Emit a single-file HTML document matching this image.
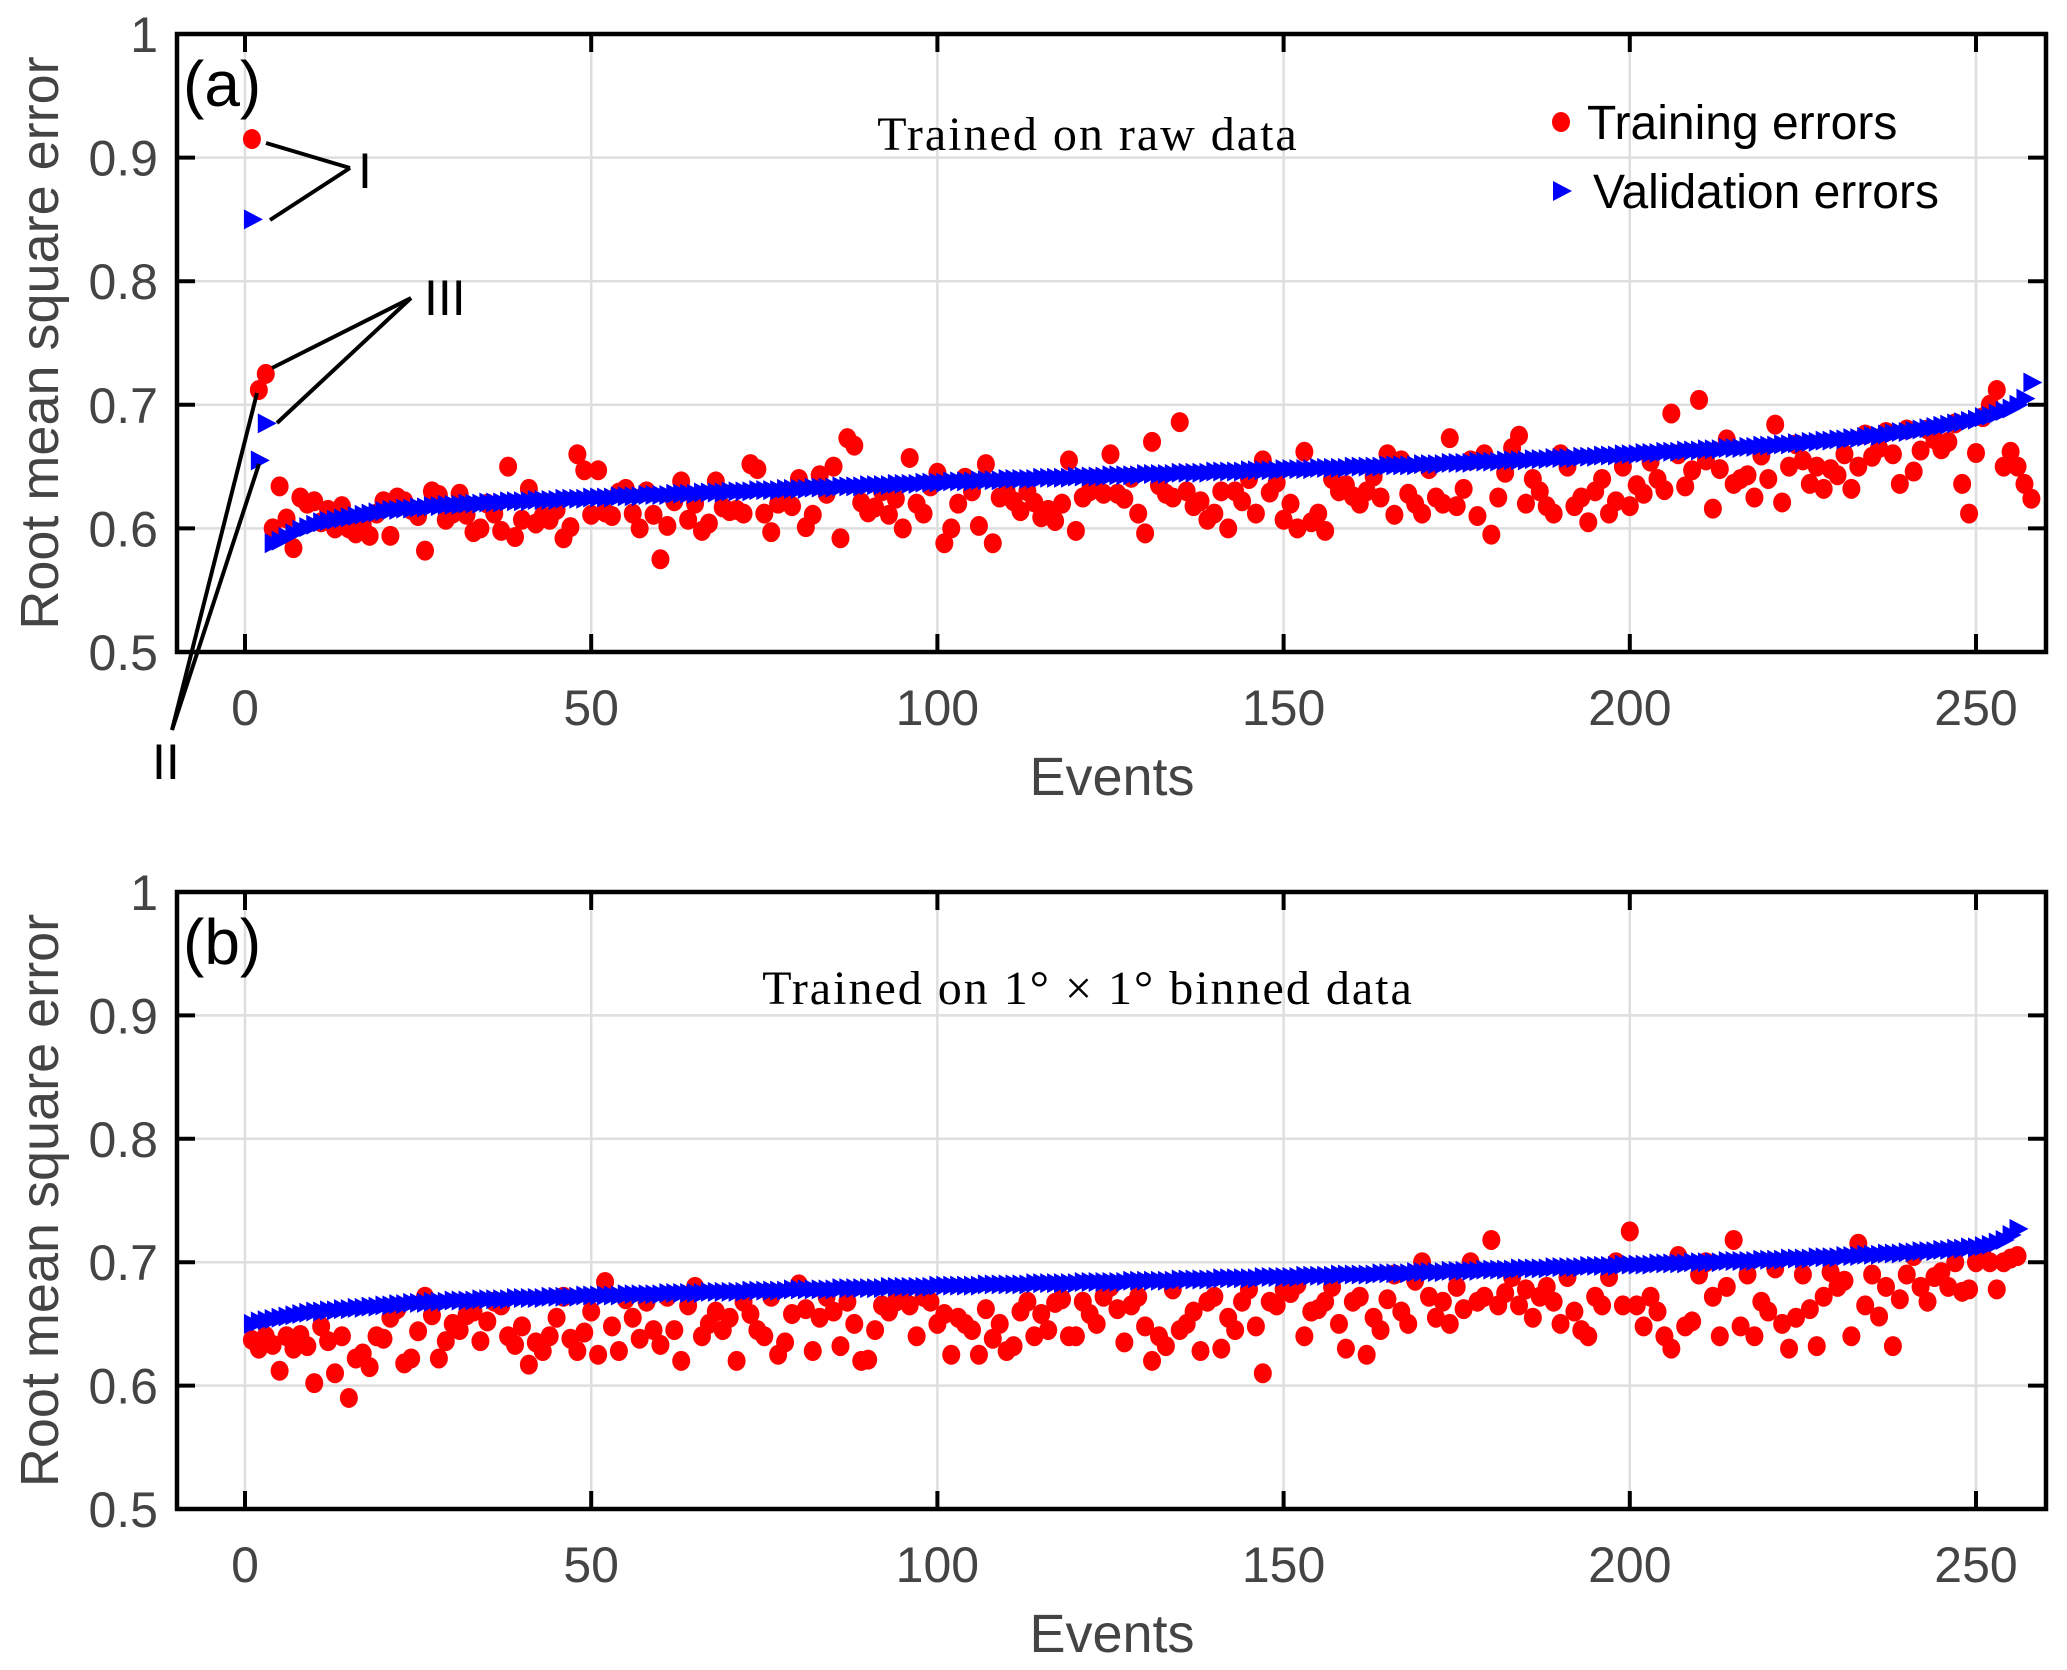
<!DOCTYPE html>
<html><head><meta charset="utf-8">
<style>
html,body{margin:0;padding:0;background:#fff;}
svg{display:block;font-family:"Liberation Sans",sans-serif;}
</style></head>
<body>
<svg id="chart" width="2067" height="1670" viewBox="0 0 2067 1670" xmlns="http://www.w3.org/2000/svg"></svg>
<script>
const xTicks = [0, 50, 100, 150, 200, 250];
const yTicks = [0.5, 0.6, 0.7, 0.8, 0.9, 1];
const yTickLabels = ["0.5", "0.6", "0.7", "0.8", "0.9", "1"];

const trainA = [.915,.712,.725,.600,.634,.608,.584,.625,.620,.622,
.605,.615,.600,.618,.600,.596,.603,.594,.612,.622,
.594,.625,.622,.615,.610,.582,.630,.627,.607,.612,
.628,.611,.597,.600,.620,.612,.598,.650,.593,.607,
.632,.604,.610,.607,.615,.592,.601,.660,.647,.611,
.647,.613,.610,.629,.632,.612,.600,.630,.611,.575,
.602,.622,.638,.607,.620,.598,.604,.638,.617,.614,
.615,.612,.652,.648,.612,.597,.620,.624,.618,.640,
.601,.611,.643,.628,.650,.592,.673,.667,.621,.613,
.617,.630,.611,.624,.600,.657,.620,.612,.634,.645,
.588,.600,.620,.641,.630,.602,.652,.588,.625,.630,
.622,.614,.630,.621,.609,.615,.606,.620,.655,.598,
.625,.630,.640,.628,.660,.628,.624,.641,.612,.596,
.670,.635,.628,.625,.686,.630,.618,.622,.607,.612,
.630,.600,.630,.622,.640,.612,.655,.629,.637,.607,
.620,.600,.662,.605,.612,.598,.640,.630,.635,.626,
.620,.630,.642,.625,.660,.611,.655,.628,.620,.612,
.648,.625,.620,.673,.618,.632,.655,.610,.660,.595,
.625,.645,.665,.675,.620,.640,.630,.618,.612,.660,
.650,.618,.625,.605,.630,.640,.612,.622,.650,.618,
.635,.628,.654,.640,.631,.693,.660,.634,.647,.704,
.655,.616,.648,.672,.636,.640,.643,.625,.659,.640,
.684,.621,.650,.668,.655,.636,.650,.632,.648,.643,
.660,.632,.650,.676,.658,.665,.678,.660,.636,.680,
.646,.663,.680,.672,.664,.670,.685,.636,.612,.661,
.690,.700,.712,.650,.662,.650,.636,.624];

const validA = [.850,.655,.685,.588,.590,.593,.596,.599,.601,.603,
.605,.606,.607,.608,.609,.610,.611,.612,.613,.614,
.615,.615,.616,.616,.617,.617,.618,.618,.619,.619,
.619,.620,.620,.620,.621,.621,.621,.622,.622,.622,
.622,.623,.623,.623,.623,.624,.624,.624,.624,.625,
.625,.625,.625,.626,.626,.626,.626,.627,.627,.627,
.627,.628,.628,.628,.628,.629,.629,.629,.629,.630,
.630,.630,.630,.631,.631,.631,.631,.632,.632,.632,
.632,.633,.633,.633,.633,.634,.634,.634,.634,.635,
.635,.635,.635,.636,.636,.636,.636,.637,.637,.637,
.637,.638,.638,.638,.638,.639,.639,.639,.639,.640,
.640,.640,.640,.640,.641,.641,.641,.641,.641,.642,
.642,.642,.642,.642,.643,.643,.643,.643,.643,.644,
.644,.644,.644,.644,.645,.645,.645,.645,.645,.646,
.646,.646,.646,.646,.647,.647,.647,.647,.647,.648,
.648,.648,.648,.648,.649,.649,.649,.649,.649,.650,
.650,.650,.650,.650,.651,.651,.651,.651,.651,.652,
.652,.652,.652,.653,.653,.653,.653,.654,.654,.654,
.654,.655,.655,.655,.655,.656,.656,.656,.657,.657,
.657,.657,.658,.658,.658,.659,.659,.659,.660,.660,
.660,.661,.661,.661,.662,.662,.662,.663,.663,.663,
.664,.664,.664,.665,.665,.665,.666,.666,.667,.667,
.667,.668,.668,.669,.669,.670,.670,.671,.671,.672,
.672,.673,.673,.674,.675,.675,.676,.677,.678,.678,
.679,.680,.681,.682,.683,.684,.685,.686,.687,.688,
.690,.691,.693,.695,.697,.700,.705,.718];

const trainB = [.637,.630,.640,.633,.612,.640,.630,.641,.632,.602,
.648,.636,.610,.640,.590,.622,.626,.615,.640,.638,
.655,.662,.618,.622,.644,.672,.657,.622,.636,.650,
.645,.657,.660,.636,.652,.668,.665,.640,.633,.648,
.617,.635,.628,.640,.655,.672,.638,.628,.643,.660,
.625,.684,.648,.628,.670,.655,.638,.668,.645,.633,
.672,.645,.620,.665,.680,.640,.650,.660,.645,.655,
.620,.668,.658,.645,.640,.672,.625,.635,.658,.682,
.662,.628,.655,.672,.660,.632,.668,.650,.620,.621,
.645,.665,.660,.668,.672,.665,.640,.672,.668,.650,
.658,.625,.655,.650,.645,.625,.662,.638,.650,.628,
.632,.660,.668,.640,.658,.645,.667,.670,.640,.640,
.668,.658,.650,.672,.680,.662,.635,.665,.672,.648,
.620,.640,.632,.678,.645,.650,.660,.628,.668,.672,
.630,.655,.645,.668,.678,.648,.610,.668,.665,.678,
.675,.682,.640,.660,.662,.668,.680,.650,.630,.668,
.672,.625,.655,.645,.670,.690,.660,.650,.685,.700,
.672,.655,.668,.650,.680,.662,.700,.668,.672,.718,
.665,.675,.688,.665,.678,.655,.672,.680,.668,.650,
.688,.660,.645,.640,.672,.665,.688,.700,.665,.725,
.665,.648,.672,.660,.640,.630,.705,.648,.652,.690,
.700,.672,.640,.680,.718,.648,.690,.640,.668,.660,
.695,.650,.630,.655,.690,.662,.632,.672,.692,.680,
.685,.640,.715,.665,.690,.656,.680,.632,.670,.690,
.705,.680,.668,.688,.692,.680,.700,.676,.678,.700,
.705,.700,.678,.700,.703,.705];

const validB = [.650,.652,.653,.654,.655,.656,.657,.658,.659,.660,
.660,.661,.661,.662,.662,.663,.663,.664,.664,.665,
.665,.666,.666,.667,.667,.667,.668,.668,.668,.669,
.669,.669,.669,.670,.670,.670,.670,.670,.671,.671,
.671,.671,.671,.672,.672,.672,.672,.672,.673,.673,
.673,.673,.673,.673,.674,.674,.674,.674,.674,.674,
.675,.675,.675,.675,.675,.675,.676,.676,.676,.676,
.676,.676,.677,.677,.677,.677,.677,.677,.678,.678,
.678,.678,.678,.678,.678,.679,.679,.679,.679,.679,
.679,.679,.680,.680,.680,.680,.680,.680,.680,.681,
.681,.681,.681,.681,.681,.681,.682,.682,.682,.682,
.682,.682,.682,.683,.683,.683,.683,.683,.683,.683,
.684,.684,.684,.684,.684,.684,.684,.685,.685,.685,
.685,.685,.685,.685,.686,.686,.686,.686,.686,.686,
.687,.687,.687,.687,.687,.687,.688,.688,.688,.688,
.688,.688,.689,.689,.689,.689,.689,.690,.690,.690,
.690,.690,.690,.691,.691,.691,.691,.691,.692,.692,
.692,.692,.692,.693,.693,.693,.693,.693,.694,.694,
.694,.694,.694,.695,.695,.695,.695,.695,.696,.696,
.696,.696,.696,.697,.697,.697,.697,.697,.698,.698,
.698,.698,.698,.699,.699,.699,.699,.699,.700,.700,
.700,.700,.700,.701,.701,.701,.701,.701,.702,.702,
.702,.702,.703,.703,.703,.703,.704,.704,.704,.704,
.705,.705,.705,.706,.706,.706,.707,.707,.707,.708,
.708,.709,.709,.709,.710,.710,.711,.711,.712,.712,
.713,.714,.716,.718,.722,.727];

const NS = "http://www.w3.org/2000/svg";
const svg = document.getElementById("chart");
function mk(tag, attrs, parent) {
  const e = document.createElementNS(NS, tag);
  for (const k in attrs) e.setAttribute(k, attrs[k]);
  (parent || svg).appendChild(e);
  return e;
}

function panel(cfg) {
  const L = 177, R = 2046, T = cfg.top, B = cfg.bottom;
  const xs = v => 245 + v * (1976 - 245) / 250;
  const ys = v => B - (v - 0.5) / 0.5 * (B - T);
  const g = mk("g", {});
  
  

  xTicks.forEach(t => {
    const l = mk("line", {x1: xs(t), x2: xs(t), y1: T, y2: B, stroke: "#dedede", "stroke-width": 2.5}, g);
    
    
  });
  yTicks.forEach(t => {
    const l = mk("line", {x1: L, x2: R, y1: ys(t), y2: ys(t), stroke: "#dedede", "stroke-width": 2.5}, g);
    
    
  });

  cfg.train.forEach((v, i) => {
    const c = mk("ellipse", {cx: xs(i + 1), cy: ys(v), rx: 9, ry: 10, fill: "#ff0000"}, g);
    
    
  });
  cfg.valid.forEach((v, i) => {
    const x = xs(i + 1), y = ys(v);
    const p = mk("polygon", {points: `${x-8},${y-10} ${x+11},${y} ${x-8},${y+10}`, fill: "#0000ff"}, g);
    
    
  });

  xTicks.forEach((t, i) => {
    mk("line", {x1: xs(t), x2: xs(t), y1: B, y2: B - 18, stroke: "#000", "stroke-width": 4}, g);
    mk("line", {x1: xs(t), x2: xs(t), y1: T, y2: T + 18, stroke: "#000", "stroke-width": 4}, g);
    const tx = mk("text", {x: xs(t), y: B + 73, "text-anchor": "middle", "font-size": 50, fill: "#444"}, g);
    tx.textContent = String(t);
    
    
  });
  yTicks.forEach((t, i) => {
    mk("line", {x1: L, x2: L + 18, y1: ys(t), y2: ys(t), stroke: "#000", "stroke-width": 4}, g);
    mk("line", {x1: R, x2: R - 18, y1: ys(t), y2: ys(t), stroke: "#000", "stroke-width": 4}, g);
    const tx = mk("text", {x: 158, y: ys(t) + 18, "text-anchor": "end", "font-size": 50, fill: "#444"}, g);
    tx.textContent = yTickLabels[i];
    
    
  });

  const box = mk("rect", {x: L, y: T, width: R - L, height: B - T, fill: "none", stroke: "#000", "stroke-width": 4.5}, g);
  
  

  const xt = mk("text", {x: 1112, y: B + 143, "text-anchor": "middle", "font-size": 54, fill: "#444"}, g);
  xt.textContent = "Events";
  
  

  const cy = (T + B) / 2;
  const yt = mk("text", {x: 58, y: cy, "text-anchor": "middle", "font-size": 54, fill: "#444", transform: `rotate(-90 58 ${cy})`}, g);
  yt.textContent = "Root mean square error";
  
  

  const lab = mk("text", {x: 183, y: T + 72, "font-size": 64, fill: "#000"}, g);
  lab.textContent = cfg.label;
  
  

  return {g, xs, ys};
}

const A = panel({name: "panel-a", top: 34, bottom: 652, train: trainA, valid: validA, label: "(a)"});
const Bp = panel({name: "panel-b", top: 892, bottom: 1509, train: trainB, valid: validB, label: "(b)"});

const ta = mk("text", {x: 1088, y: 150, "text-anchor": "middle", "font-size": 48, fill: "#000", "font-family": "Liberation Serif, serif", "letter-spacing": 2}, A.g);
ta.textContent = "Trained on raw data";



const tb = mk("text", {x: 1088, y: 1004, "text-anchor": "middle", "font-size": 48, fill: "#000", "font-family": "Liberation Serif, serif", "letter-spacing": 2}, Bp.g);
tb.textContent = "Trained on 1° × 1° binned data";



const lg = mk("g", {}, A.g);


const le1 = mk("ellipse", {cx: 1561, cy: 122, rx: 9, ry: 10, fill: "#ff0000"}, lg);


const lt1 = mk("text", {x: 1587, y: 139, "font-size": 48, fill: "#000"}, lg);
lt1.textContent = "Training errors";


const le2 = mk("polygon", {points: "1553,181 1572,191 1553,201", fill: "#0000ff"}, lg);


const lt2 = mk("text", {x: 1593, y: 208, "font-size": 48, fill: "#000"}, lg);
lt2.textContent = "Validation errors";



const an = mk("g", {stroke: "#000", "stroke-width": 4, fill: "none"}, A.g);


[[266,143,350,168],[270,220,350,168],[272,368,411,298],[277,423,411,298],[257,393,172,730],[259,464,172,730]].forEach(s => {
  const l = mk("line", {x1: s[0], y1: s[1], x2: s[2], y2: s[3]}, an);
  
  
});
[["I",358,188],["III",424,315],["II",152,779]].forEach(a => {
  const t = mk("text", {x: a[1], y: a[2], "font-size": 50, fill: "#000"}, A.g);
  t.textContent = a[0];
  
  
});
</script>
</body></html>
